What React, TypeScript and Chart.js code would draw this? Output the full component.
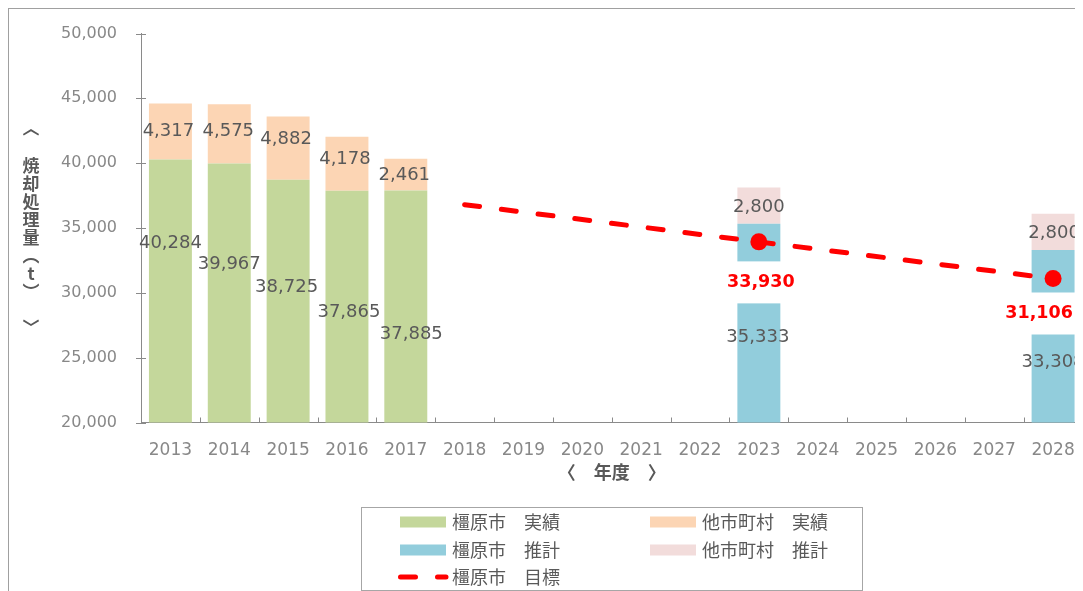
import React, { useEffect, useRef } from "react";
import { Chart, registerables } from "chart.js";

Chart.register(...registerables);

const years = ["2013","2014","2015","2016","2017","2018","2019","2020","2021","2022","2023","2024","2025","2026","2027","2028"];
const kashiharaActual = [40284, 39967, 38725, 37865, 37885, null, null, null, null, null, null, null, null, null, null, null];
const othersActual = [4317, 4575, 4882, 4178, 2461, null, null, null, null, null, null, null, null, null, null, null];
const kashiharaEstimate = [null, null, null, null, null, null, null, null, null, null, 35333, null, null, null, null, 33308];
const othersEstimate = [null, null, null, null, null, null, null, null, null, null, 2800, null, null, null, null, 2800];
const kashiharaTarget = [null, null, null, null, null, 36800, null, null, null, null, 33930, null, null, null, null, 31106];
const targetMarker = [false, false, false, false, false, false, false, false, false, false, true, false, false, false, false, true];
const yTicks = [20000, 25000, 30000, 35000, 40000, 45000, 50000];

const seriesNames = ["橿原市　実績", "他市町村　実績", "橿原市　推計", "他市町村　推計", "橿原市　目標"];
const yTitle = "〈　焼却処理量（t）　〉";
const xTitle = "〈　年度　〉";

const COLORS = {
  green: "#c4d79b",
  orange: "#fcd5b4",
  blue: "#92cddc",
  pink: "#f2dcdb",
  red: "#ff0000",
  text: "#595959",
  tick: "#888888",
  axis: "#8a8a8a",
};

const fmt = (v: number) => v.toLocaleString("en-US");

// label nudges (pixels) relative to segment centre, per dataset index / data index
const labelNudge: Record<number, Record<number, [number, number]>> = {
  1: { 0: [0, -48], 1: [0, -29], 2: [-1.5, -13.5], 3: [2, 6], 4: [5.5, 27.5] },
  2: { 0: [-2, 0], 1: [-1, -2.5], 2: [-2, -8.5], 3: [-2, -4.3], 4: [-1.5, 0.8] },
  3: { 10: [-1, 14.6], 15: [0, 26] },
  4: { 10: [0, 1.5], 15: [1, 2] },
};
// target label offsets from the marker [dx, dy]
const targetLabelShift: Record<number, [number, number]> = { 10: [2, 40.5], 15: [-14, 35] };

const labelsPlugin = {
  id: "customLabels",
  afterDatasetsDraw(chart: any) {
    const { ctx, chartArea } = chart;
    ctx.save();
    [1, 2, 3, 4].forEach((di) => {
      const meta = chart.getDatasetMeta(di);
      const ds = chart.data.datasets[di];
      meta.data.forEach((el: any, i: number) => {
        const v = ds.data[i];
        if (v == null) return;
        const base = Math.min(el.base, chartArea.bottom);
        const cx = el.x;
        const cy = (el.y + base) / 2;
        const n = (labelNudge[di] && labelNudge[di][i]) || [0, 0];
        ctx.font = '18px "DejaVu Sans"';
        ctx.fillStyle = COLORS.text;
        ctx.textAlign = "center";
        ctx.textBaseline = "middle";
        ctx.fillText(fmt(v), cx + n[0], cy + n[1]);
      });
    });
    const lmeta = chart.getDatasetMeta(0);
    const lds = chart.data.datasets[0];
    lmeta.data.forEach((el: any, i: number) => {
      if (!targetMarker[i]) return;
      const v = lds.data[i];
      const s = targetLabelShift[i];
      const x = el.x + s[0];
      const y = el.y + s[1];
      ctx.fillStyle = "#ffffff";
      ctx.fillRect(x - 42, y - 21, 84, 42);
      ctx.font = 'bold 17.5px "DejaVu Sans"';
      ctx.fillStyle = COLORS.red;
      ctx.textAlign = "center";
      ctx.textBaseline = "middle";
      ctx.fillText(fmt(v), x, y);
    });
    ctx.restore();
  },
  afterDraw(chart: any) {
    const { ctx, chartArea, scales } = chart;
    ctx.save();
    ctx.strokeStyle = COLORS.axis;
    ctx.lineWidth = 1;
    yTicks.forEach((v) => {
      const y = Math.round(scales.y.getPixelForValue(v)) + 0.5;
      ctx.beginPath();
      ctx.moveTo(chartArea.left - 5, y);
      ctx.lineTo(chartArea.left + 5, y);
      ctx.stroke();
    });
    const w = (chartArea.right - chartArea.left) / years.length;
    for (let i = 1; i < years.length; i++) {
      const x = Math.round(chartArea.left + i * w) + 0.5;
      ctx.beginPath();
      ctx.moveTo(x, chartArea.bottom);
      ctx.lineTo(x, chartArea.bottom - 5);
      ctx.stroke();
    }
    const vert: Record<string, string> = { "〈": "︿", "〉": "﹀", "（": "︵", "）": "︶" };
    ctx.font = 'bold 17px "Noto Sans CJK JP"';
    ctx.fillStyle = COLORS.text;
    ctx.textAlign = "center";
    ctx.textBaseline = "middle";
    const chars = Array.from(yTitle);
    const pitch = 18;
    const startY = 119;
    chars.forEach((c, k) => {
      const ch = vert[c] || c;
      ctx.fillText(ch, 22, startY + k * pitch + (k > 1 ? 2 : 0));
    });
    const bx = 352.5, by = 498.5, bw = 501, bh = 83;
    ctx.strokeStyle = "#a6a6a6";
    ctx.lineWidth = 1;
    ctx.strokeRect(bx, by, bw, bh);
    const items = [
      { name: seriesNames[0], color: COLORS.green, col: 0, row: 0 },
      { name: seriesNames[1], color: COLORS.orange, col: 1, row: 0 },
      { name: seriesNames[2], color: COLORS.blue, col: 0, row: 1 },
      { name: seriesNames[3], color: COLORS.pink, col: 1, row: 1 },
      { name: seriesNames[4], color: COLORS.red, col: 0, row: 2, line: true },
    ];
    const colX = [391, 641];
    const rowY = [513, 541, 568];
    ctx.font = '18px "Noto Sans CJK JP"';
    items.forEach((it: any) => {
      const x = colX[it.col];
      const y = rowY[it.row];
      if (it.line) {
        ctx.save();
        ctx.strokeStyle = it.color;
        ctx.lineWidth = 5;
        ctx.lineCap = "round";
        ctx.setLineDash([15, 22]);
        ctx.beginPath();
        ctx.moveTo(x + 0.5, y);
        ctx.lineTo(x + 46, y);
        ctx.stroke();
        ctx.restore();
      } else {
        ctx.fillStyle = it.color;
        ctx.fillRect(x, y - 5.5, 46, 11);
      }
      ctx.fillStyle = COLORS.text;
      ctx.textAlign = "left";
      ctx.textBaseline = "middle";
      ctx.fillText(it.name, x + 52, y);
    });
    ctx.restore();
  },
};

export default function App() {
  const ref = useRef<HTMLCanvasElement | null>(null);
  useEffect(() => {
    document.documentElement.style.overflow = "hidden";
    if (!ref.current) return;
    const chart = new Chart(ref.current, {
      type: "bar",
      data: {
        labels: years,
        datasets: [
          {
            type: "line",
            label: seriesNames[4],
            data: kashiharaTarget as any,
            borderColor: COLORS.red,
            backgroundColor: COLORS.red,
            borderWidth: 5,
            borderDash: [15, 22],
            borderCapStyle: "round",
            spanGaps: true,
            stack: "target",
            order: 0,
            pointRadius: (c: any) => (targetMarker[c.dataIndex] ? 8.5 : 0),
            pointBorderWidth: 0,
            pointBackgroundColor: COLORS.red,
            tension: 0,
          } as any,
          { label: seriesNames[0], data: kashiharaActual as any, backgroundColor: COLORS.green, order: 1, stack: "s" },
          { label: seriesNames[1], data: othersActual as any, backgroundColor: COLORS.orange, order: 1, stack: "s" },
          { label: seriesNames[2], data: kashiharaEstimate as any, backgroundColor: COLORS.blue, order: 1, stack: "s" },
          { label: seriesNames[3], data: othersEstimate as any, backgroundColor: COLORS.pink, order: 1, stack: "s" },
        ],
      },
      options: {
        responsive: false,
        maintainAspectRatio: false,
        animation: false,
        datasets: { bar: { barPercentage: 0.73, categoryPercentage: 1, borderWidth: 0 } },
        layout: { padding: { top: 24.5, right: 0, bottom: 108.5, left: 0 } },
        plugins: { legend: { display: false }, tooltip: { enabled: false } },
        scales: {
          x: {
            stacked: true,
            offset: true,
            grid: { display: false, drawTicks: false },
            border: { display: true, color: COLORS.axis, width: 1 },
            ticks: {
              color: COLORS.tick,
              font: { family: "DejaVu Sans", size: 17 },
              padding: 18,
              maxRotation: 0,
              autoSkip: false,
            },
            title: {
              display: true,
              text: xTitle,
              color: COLORS.text,
              font: { family: "Noto Sans CJK JP", size: 18, weight: "bold" },
              padding: 0,
            },
            afterFit: (s: any) => {
              s.height = 60;
              s.paddingLeft = 0;
              s.paddingRight = 0;
            },
          },
          y: {
            stacked: true,
            min: 20000,
            max: 50000,
            grid: { display: false, drawTicks: false },
            border: { display: true, color: COLORS.axis, width: 1 },
            afterBuildTicks: (s: any) => {
              s.ticks = yTicks.map((v) => ({ value: v }));
            },
            ticks: {
              color: COLORS.tick,
              font: { family: "DejaVu Sans", size: 16 },
              padding: 24,
              callback: (v: any) => fmt(Number(v)),
            },
            afterFit: (s: any) => {
              s.width = 132;
              s.paddingTop = 0;
              s.paddingBottom = 0;
            },
          },
        },
      },
      plugins: [labelsPlugin],
    });
    return () => chart.destroy();
  }, []);

  return (
    <div
      style={{
        width: 1100,
        height: 583,
        overflow: "hidden",
        borderLeft: "1px solid #a0a0a0",
        borderTop: "1px solid #a0a0a0",
        boxSizing: "border-box",
        background: "#fff",
      }}
    >
      <canvas ref={ref} width={1082} height={582} style={{ display: "block" }} />
    </div>
  );
}
